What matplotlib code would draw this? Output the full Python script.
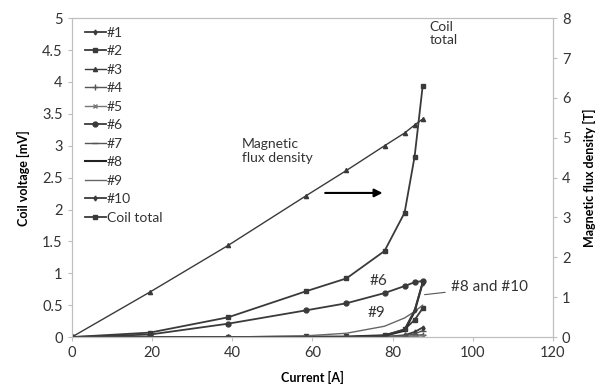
import numpy as np
import matplotlib.pyplot as plt

plt.rcParams['font.family'] = ['Lato', 'DejaVu Sans']

# prąd [A]
current = [0, 19.5, 39, 58.5, 68.5, 78, 83, 85.5, 87.5]

# napięcia cewek [mV]
c1 = [0, 0, 0, 0, 0, 0, 0.03, 0.08, 0.15]
c2 = [0, 0, 0, 0.01, 0.01, 0.03, 0.12, 0.27, 0.45]
c4 = [0, 0, 0, 0, 0, 0, 0.01, 0.02, 0.04]
c5 = [0, 0, 0, 0, 0, 0, 0, 0.01, 0.02]
c6 = [0, 0.04, 0.21, 0.42, 0.53, 0.69, 0.80, 0.86, 0.88]
c7 = [0, 0, 0, 0, 0, 0.01, 0.02, 0.05, 0.10]
c8 = [0, 0, 0, 0, 0, 0.02, 0.10, 0.40, 0.85]
c9 = [0, 0, 0, 0.02, 0.06, 0.17, 0.30, 0.40, 0.50]
c10 = [0, 0, 0, 0, 0, 0.02, 0.12, 0.42, 0.85]
total = [0, 0.07, 0.31, 0.72, 0.92, 1.35, 1.95, 2.83, 3.93]

# gęstość strumienia [T]
flux = [0, 1.13, 2.3, 3.55, 4.18, 4.8, 5.12, 5.32, 5.47]

col = '#3a3a3a'
grey = '#bfbfbf'
txt = '#333333'

fig = plt.figure(figsize=(6.03, 3.87), dpi=100)
ax = fig.add_axes([0.119, 0.129, 0.798, 0.824])
ax2 = ax.twinx()

ax.plot(current, c1, '-d', color=col, ms=2.5, lw=1.3, label='#1')
ax.plot(current, c2, '-s', color=col, ms=3.5, lw=1.3, label='#2')
ax.plot([], [], '-^', color=col, ms=3, lw=1.0, label='#3')
ax.plot(current, c4, '-', marker='+', color='#555555', ms=4, lw=1.0, label='#4')
ax.plot(current, c5, '-', marker='x', color='#777777', ms=3, lw=1.0, label='#5')
ax.plot(current, c6, '-o', color=col, ms=3.5, lw=1.3, label='#6')
ax.plot(current, c7, '-', marker='_', color='#555555', ms=4, lw=1.0, label='#7')
ax.plot(current, c8, '-', color='#222222', lw=1.5, label='#8')
ax.plot(current, c9, '-', color='#666666', lw=1.0, label='#9')
ax.plot(current, c10, '-d', color=col, ms=2.5, lw=1.3, label='#10')
ax.plot(current, total, '-s', color=col, ms=3.5, lw=1.3, label='Coil total')

ax2.plot(current, flux, '-^', color=col, ms=3, lw=1.0)

ax.set_xlim(0, 120)
ax.set_ylim(0, 5)
ax2.set_ylim(0, 8)
ax.set_xticks(np.arange(0, 121, 20))
ax.set_yticks(np.arange(0, 5.01, 0.5))
ax.set_yticklabels(['0', '0.5', '1', '1.5', '2', '2.5', '3', '3.5', '4', '4.5', '5'])
ax2.set_yticks(np.arange(0, 9, 1))

for a in (ax, ax2):
    for s in a.spines.values():
        s.set_color(grey)
    a.tick_params(colors=grey, labelcolor=txt, labelsize=10.5, length=3)

ax.set_xlabel('Current [A]', fontsize=9, fontweight='bold', labelpad=8)
ax.set_ylabel('Coil voltage [mV]', fontsize=9, fontweight='bold', labelpad=9)
ax2.set_ylabel('Magnetic flux density [T]', fontsize=9, fontweight='bold', labelpad=9)

leg = ax.legend(loc='upper left', frameon=False, fontsize=10, handlelength=1.5,
                handletextpad=0.1, labelspacing=0.47, borderaxespad=0.2,
                bbox_to_anchor=(0.01, 1.0))
for t in leg.get_texts():
    t.set_color(txt)

ax.text(89.3, 4.96, 'Coil\ntotal', fontsize=10, color=txt, va='top', linespacing=1.15)
ax.text(42.5, 3.12, 'Magnetic\nflux density', fontsize=10, color=txt, va='top', linespacing=1.2)
ax.annotate('', xy=(78.2, 2.26), xytext=(62.5, 2.26),
            arrowprops=dict(arrowstyle='-|>', color='black', lw=1.5, mutation_scale=12))
ax.text(74.3, 0.82, '#6', fontsize=11, color=txt)
ax.text(73.8, 0.32, '#9', fontsize=11, color=txt)
ax.annotate('#8 and #10', xy=(87.3, 0.66), xytext=(94.5, 0.78), fontsize=11,
            color=txt, va='center',
            arrowprops=dict(arrowstyle='-', color='#555555', lw=0.8))

fig.savefig('out.png', dpi=100)
